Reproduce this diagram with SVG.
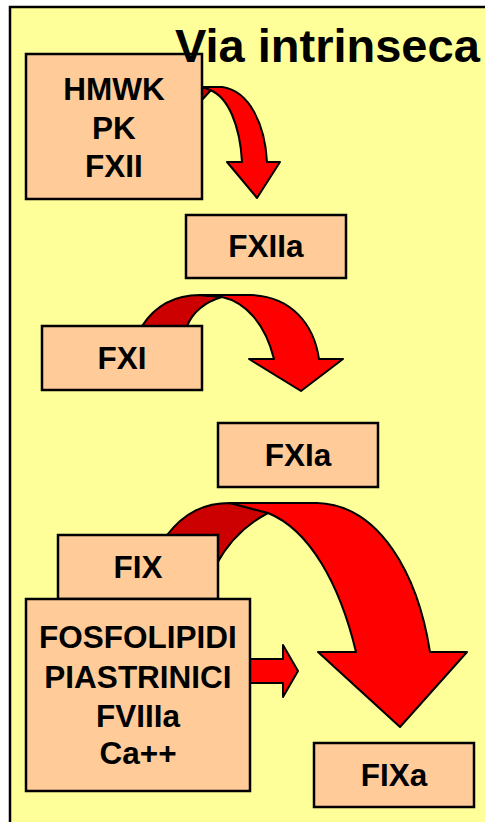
<svg xmlns="http://www.w3.org/2000/svg" width="485" height="822" viewBox="0 0 485 822">
<style>
.box{fill:#FFCC99;stroke:#000;stroke-width:2.5}
.t{font-family:"Liberation Sans",Arial,sans-serif;font-weight:bold;font-size:31.5px;fill:#000;text-anchor:middle}
.ttl{font-family:"Liberation Sans",Arial,sans-serif;font-weight:bold;font-size:47px;fill:#000}
.ar{fill:#FF0000;stroke:#000;stroke-width:2;stroke-linejoin:round}
.dk{fill:#CC0000;stroke:#000;stroke-width:2;stroke-linejoin:round}
</style>
<rect x="0" y="0" width="485" height="822" fill="#fff"/>
<rect x="10" y="7" width="490" height="830" fill="#FFFF99" stroke="#000" stroke-width="2.5"/>
<g id="connectors">
  <g id="arrow1">
    <path class="dk" d="M200,87 L212,89 L200,102 Z"/>
    <path class="ar" d="M203,87 L222,87 C250,91 265,125 267,162 L280,162 L257,198 L227,162 L242,162 C240,125 228,97 210,90 Z"/>
  </g>
  <g id="arrow2">
    <path class="dk" d="M142,326 C155,306 175,295 200,295 L222,297 C205,302 193,312 187,326 Z"/>
    <path class="ar" d="M200,295 L250,295 C292,296 314,325 319,359 L343,359 L301,391 L249,359 L274,359 C265,323 245,302 222,297 Z"/>
  </g>
  <g id="arrow3">
    <path class="dk" d="M167,535 C185,512 205,503 230,503 L268,513 C245,525 228,543 216,565 L216,535 Z"/>
    <path class="ar" d="M230,503 L317,503 C380,505 418,575 430,652 L467,652 L400,727 L318,652 L356,652 C340,585 310,530 268,513 Z"/>
  </g>
  <path id="arrow4" class="ar" d="M249,659 L283,659 L283,645 L298,671 L283,697 L283,683 L249,683 Z"/>
</g>
<g id="n-hmwk">
  <rect class="box" x="26" y="54" width="176" height="145"/>
  <text class="t" x="114" y="100">HMWK</text>
  <text class="t" x="114" y="139">PK</text>
  <text class="t" x="114" y="177">FXII</text>
</g>
<text class="ttl" x="175" y="62">Via intrinseca</text>
<g id="n-fxiia">
  <rect class="box" x="186" y="215" width="160" height="63"/>
  <text class="t" x="266" y="257">FXIIa</text>
</g>
<g id="n-fxi">
  <rect class="box" x="42" y="326" width="160" height="64"/>
  <text class="t" x="122" y="369">FXI</text>
</g>
<g id="n-fxia">
  <rect class="box" x="218" y="423" width="160" height="64"/>
  <text class="t" x="298" y="466">FXIa</text>
</g>
<g id="n-fix">
  <rect class="box" x="58" y="535" width="160" height="64"/>
  <text class="t" x="138" y="578">FIX</text>
</g>
<g id="n-fosfo">
  <rect class="box" x="26" y="599" width="224" height="192"/>
  <text class="t" x="138" y="648">FOSFOLIPIDI</text>
  <text class="t" x="138" y="688">PIASTRINICI</text>
  <text class="t" x="138" y="727">FVIIIa</text>
  <text class="t" x="138" y="764">Ca++</text>
</g>
<g id="n-fixa">
  <rect class="box" x="314" y="743" width="160" height="64"/>
  <text class="t" x="394" y="786">FIXa</text>
</g>
</svg>
